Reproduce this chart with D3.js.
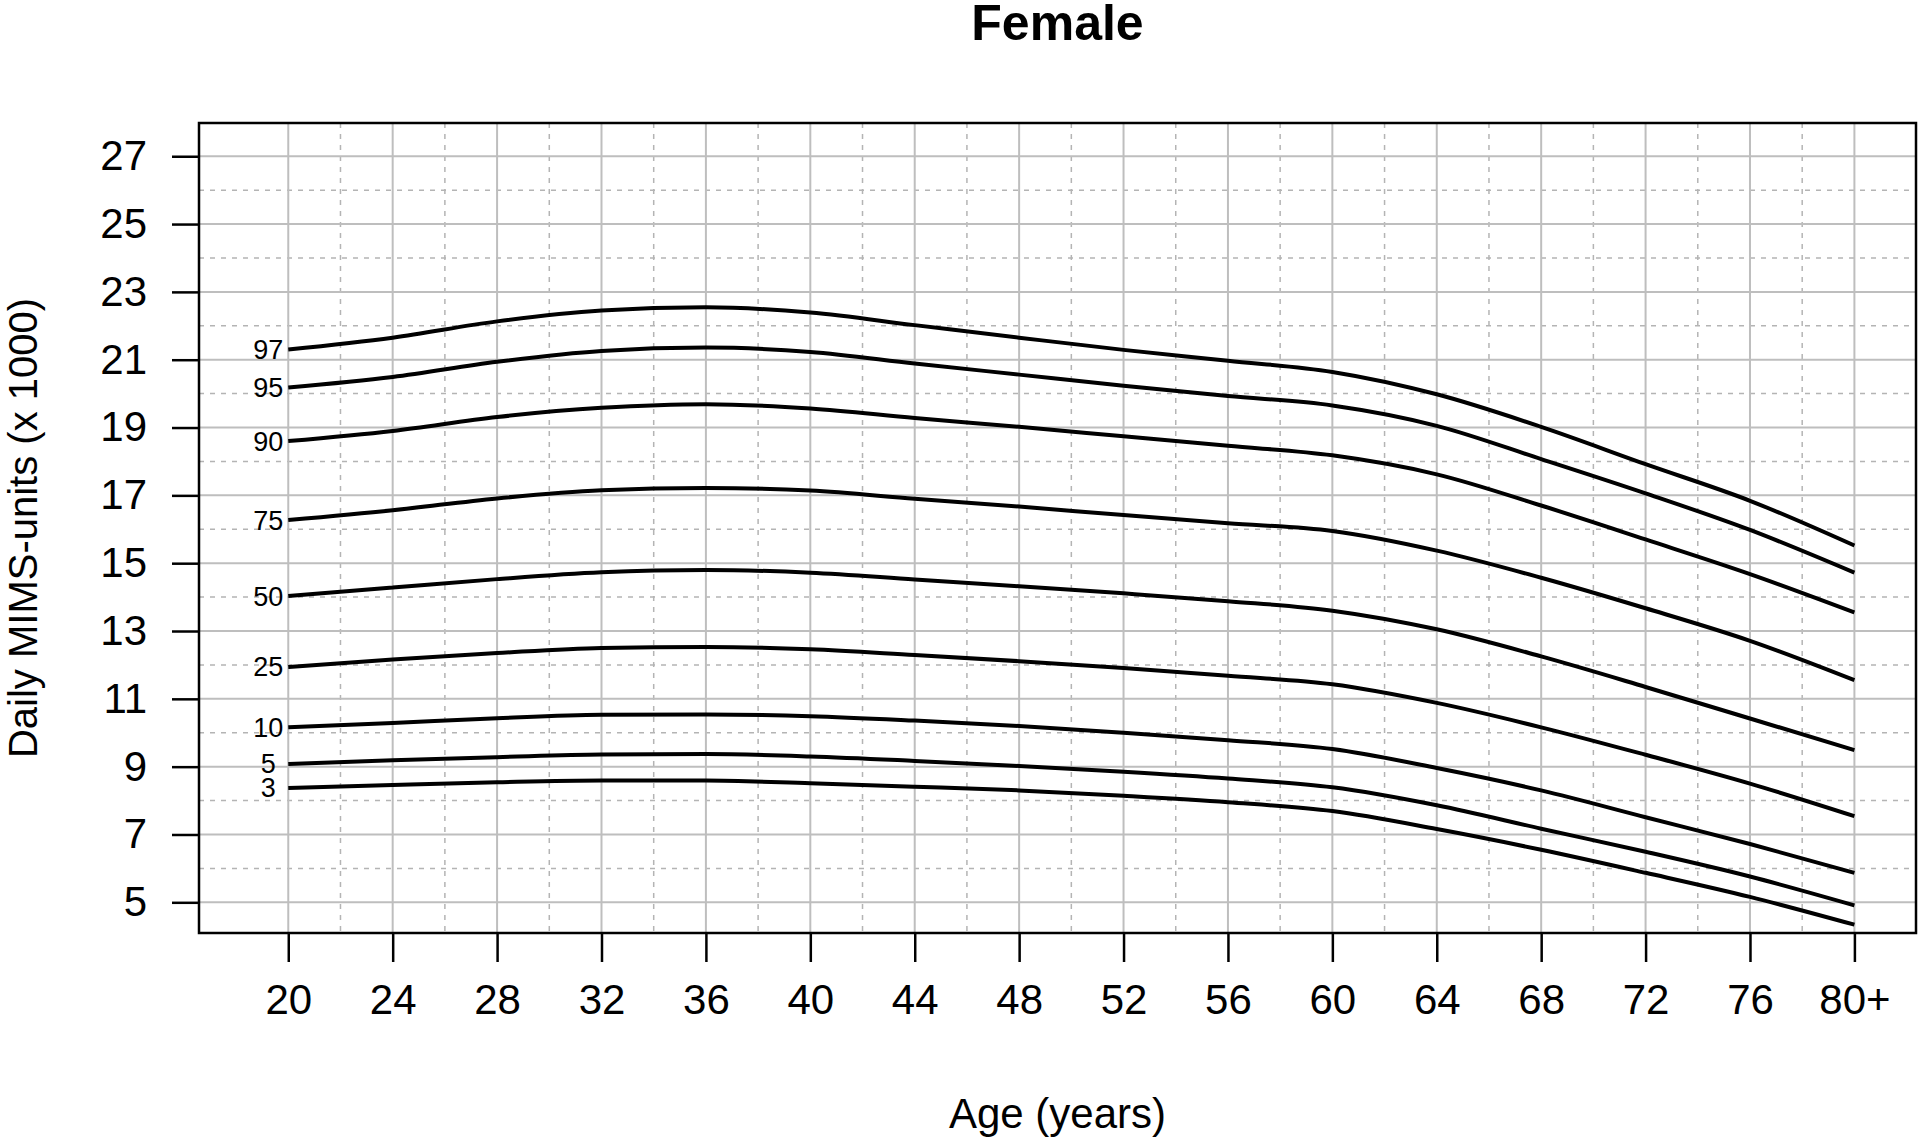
<!DOCTYPE html>
<html>
<head>
<meta charset="utf-8">
<script src="https://cdn.jsdelivr.net/npm/d3@7"></script>
<style>
  body { margin: 0; background: #fff; }
  text { font-family: "Liberation Sans", Arial, Helvetica, sans-serif; }
</style>
</head>
<body>
<div id="chart"></div>
<script>

var ages = [20, 24, 28, 32, 36, 40, 44, 48, 52, 56, 60, 64, 68, 72, 76, 80];

// percentile curves, daily MIMS-units x 1000
var p97 = [21.30, 21.65, 22.13, 22.45, 22.55, 22.39, 22.02, 21.65, 21.29, 20.97, 20.64, 19.98, 19.02, 17.92, 16.84, 15.52];
var p95 = [20.18, 20.49, 20.94, 21.26, 21.36, 21.23, 20.89, 20.56, 20.23, 19.93, 19.65, 19.05, 18.07, 17.06, 15.98, 14.72];
var p90 = [18.60, 18.90, 19.31, 19.58, 19.69, 19.56, 19.28, 19.02, 18.74, 18.46, 18.18, 17.62, 16.70, 15.70, 14.68, 13.55];
var p75 = [16.27, 16.56, 16.91, 17.15, 17.22, 17.14, 16.90, 16.67, 16.42, 16.18, 15.95, 15.37, 14.57, 13.67, 12.71, 11.55];
var p50 = [14.03, 14.28, 14.53, 14.73, 14.80, 14.72, 14.52, 14.32, 14.11, 13.88, 13.60, 13.05, 12.25, 11.35, 10.42, 9.49];
var p25 = [11.94, 12.16, 12.35, 12.50, 12.53, 12.46, 12.29, 12.11, 11.91, 11.68, 11.43, 10.88, 10.16, 9.35, 8.50, 7.54];
var p10 = [10.16, 10.29, 10.43, 10.53, 10.54, 10.49, 10.36, 10.20, 10.00, 9.78, 9.52, 8.96, 8.30, 7.51, 6.72, 5.87];
var p5  = [9.08, 9.19, 9.28, 9.36, 9.37, 9.30, 9.17, 9.02, 8.85, 8.65, 8.39, 7.86, 7.17, 6.49, 5.76, 4.91];
var p3  = [8.37, 8.46, 8.54, 8.59, 8.59, 8.51, 8.41, 8.30, 8.14, 7.95, 7.69, 7.16, 6.55, 5.87, 5.16, 4.34];

var pctLabels = ['97', '95', '90', '75', '50', '25', '10', '5', '3'];
var pctValues = [p97, p95, p90, p75, p50, p25, p10, p5, p3];

var xTicks = [20, 24, 28, 32, 36, 40, 44, 48, 52, 56, 60, 64, 68, 72, 76, 80];
var xTickLabels = ['20', '24', '28', '32', '36', '40', '44', '48', '52', '56', '60', '64', '68', '72', '76', '80+'];
var xMinor = [22, 26, 30, 34, 38, 42, 46, 50, 54, 58, 62, 66, 70, 74, 78];
var yTicks = [5, 7, 9, 11, 13, 15, 17, 19, 21, 23, 25, 27];
var yMinor = [6, 8, 10, 12, 14, 16, 18, 20, 22, 24, 26];

var width = 1920, height = 1140;
var plotL = 199, plotR = 1916, plotT = 123, plotB = 933;

var svg = d3.select('#chart').append('svg')
    .attr('width', width)
    .attr('height', height);

var x = d3.scaleLinear().domain([16.58, 82.36]).range([plotL, plotR]);
var y = d3.scaleLinear().domain([4.095, 27.98]).range([plotB, plotT]);

var grid = svg.append('g');

// minor dashed grid
grid.selectAll('.vminor').data(xMinor).enter().append('line')
    .attr('x1', function (d) { return x(d); })
    .attr('x2', function (d) { return x(d); })
    .attr('y1', plotT).attr('y2', plotB)
    .attr('stroke', '#b4b4b4').attr('stroke-width', 1.5)
    .attr('stroke-dasharray', '5,6');
grid.selectAll('.hminor').data(yMinor).enter().append('line')
    .attr('y1', function (d) { return y(d); })
    .attr('y2', function (d) { return y(d); })
    .attr('x1', plotL).attr('x2', plotR)
    .attr('stroke', '#b4b4b4').attr('stroke-width', 1.5)
    .attr('stroke-dasharray', '5,6');

// major solid grid
grid.selectAll('.vmajor').data(xTicks).enter().append('line')
    .attr('x1', function (d) { return x(d); })
    .attr('x2', function (d) { return x(d); })
    .attr('y1', plotT).attr('y2', plotB)
    .attr('stroke', '#bebebe').attr('stroke-width', 2);
grid.selectAll('.hmajor').data(yTicks).enter().append('line')
    .attr('y1', function (d) { return y(d); })
    .attr('y2', function (d) { return y(d); })
    .attr('x1', plotL).attr('x2', plotR)
    .attr('stroke', '#bebebe').attr('stroke-width', 2);

// axes
var xAxis = d3.axisBottom(x)
    .tickValues(xTicks)
    .tickSize(29)
    .tickPadding(22)
    .tickFormat(function (d, i) { return xTickLabels[i]; });
var yAxis = d3.axisLeft(y)
    .tickValues(yTicks)
    .tickSize(27)
    .tickPadding(25);

var gx = svg.append('g')
    .attr('transform', 'translate(0,' + plotB + ')')
    .call(xAxis);
var gy = svg.append('g')
    .attr('transform', 'translate(' + plotL + ',0)')
    .call(yAxis);

[gx, gy].forEach(function (g) {
  g.select('.domain').remove();
  g.selectAll('line').attr('stroke', '#000').attr('stroke-width', 2.5);
  g.selectAll('text')
    .attr('fill', '#000')
    .style('font-family', '"Liberation Sans", Arial, sans-serif')
    .style('font-size', '42px');
});

// curves
var line = d3.line()
    .curve(d3.curveMonotoneX)
    .x(function (d) { return x(d.age); })
    .y(function (d) { return y(d.v); });

var series = pctLabels.map(function (lab, i) {
  return {
    id: lab,
    values: ages.map(function (a, j) { return { age: a, v: pctValues[i][j] }; })
  };
});

svg.append('g').selectAll('path').data(series).enter().append('path')
    .attr('d', function (d) { return line(d.values); })
    .attr('fill', 'none')
    .attr('stroke', '#000')
    .attr('stroke-width', 4);

// percentile labels at start of each curve
svg.append('g').selectAll('text').data(series).enter().append('text')
    .attr('x', x(ages[0]) - 20)
    .attr('y', function (d) { return y(d.values[0].v); })
    .attr('dy', '0.35em')
    .attr('text-anchor', 'middle')
    .style('font-size', '27px')
    .text(function (d) { return d.id; });

// box
svg.append('rect')
    .attr('x', plotL).attr('y', plotT)
    .attr('width', plotR - plotL).attr('height', plotB - plotT)
    .attr('fill', 'none')
    .attr('stroke', '#000')
    .attr('stroke-width', 2.5);

// titles
svg.append('text')
    .attr('x', (plotL + plotR) / 2)
    .attr('y', 40)
    .attr('text-anchor', 'middle')
    .style('font-size', '50px')
    .style('font-weight', 'bold')
    .text('Female');

svg.append('text')
    .attr('x', (plotL + plotR) / 2)
    .attr('y', 1128)
    .attr('text-anchor', 'middle')
    .style('font-size', '42px')
    .text('Age (years)');

svg.append('text')
    .attr('transform', 'translate(37,' + ((plotT + plotB) / 2) + ') rotate(-90)')
    .attr('text-anchor', 'middle')
    .style('font-size', '40px')
    .text('Daily MIMS-units (x 1000)');

</script>
</body>
</html>
